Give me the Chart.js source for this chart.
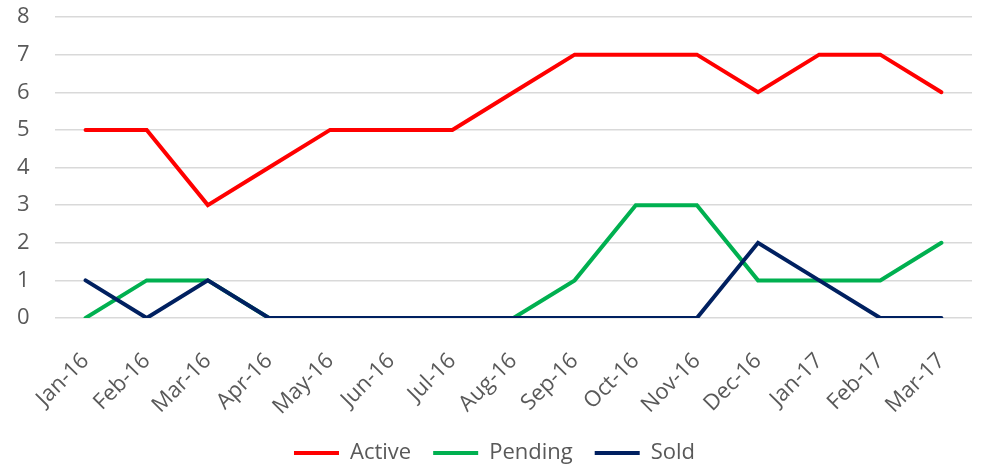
<!DOCTYPE html>
<html lang="en">
<head>
    <meta charset="UTF-8" />
    <title>Listings by Month</title>
    <script src="https://cdn.jsdelivr.net/npm/chart.js@4.4.1/dist/chart.umd.min.js"></script>
    <style>
        html, body {
            margin: 0;
            padding: 0;
            background: #ffffff;
        }
        #wrap {
            width: 983px;
            height: 471px;
        }
    </style>
</head>
<body>
    <div id="wrap"><canvas id="chart"></canvas></div>

    <script>
        // === Data ===
        const MONTHS = [
            "Jan-16", "Feb-16", "Mar-16", "Apr-16", "May-16", "Jun-16", "Jul-16", "Aug-16",
            "Sep-16", "Oct-16", "Nov-16", "Dec-16", "Jan-17", "Feb-17", "Mar-17"
        ];
        const ACTIVE  = [5, 5, 3, 4, 5, 5, 5, 6, 7, 7, 7, 6, 7, 7, 6];
        const PENDING = [0, 1, 1, 0, 0, 0, 0, 0, 1, 3, 3, 1, 1, 1, 2];
        const SOLD    = [1, 0, 1, 0, 0, 0, 0, 0, 0, 0, 0, 2, 1, 0, 0];

        const TEXT_COLOR = "#595959";
        const FONT = "'Open Sans', 'DejaVu Sans', sans-serif";
        const FONT_SIZE = 22;

        // later series are painted on top (lower "order" draws last)
        function series(label, data, color, order) {
            return {
                label,
                data,
                order,
                borderColor: color,
                backgroundColor: color,
                borderWidth: 4,
                borderCapStyle: "round",
                borderJoinStyle: "miter",
                pointRadius: 0,
                tension: 0,
                fill: false
            };
        }

        new Chart(document.getElementById("chart"), {
            type: "line",
            data: {
                labels: MONTHS,
                datasets: [
                    series("Active", ACTIVE, "#ff0000", 3),
                    series("Pending", PENDING, "#00b050", 2),
                    series("Sold", SOLD, "#002060", 1)
                ]
            },
            options: {
                responsive: true,
                maintainAspectRatio: false,
                animation: false,
                layout: {
                    padding: { left: 17, right: 11, top: 17, bottom: -3 }
                },
                scales: {
                    x: {
                        offset: true,
                        grid: { display: false },
                        border: { display: false },
                        ticks: {
                            color: TEXT_COLOR,
                            font: { family: FONT, size: FONT_SIZE },
                            minRotation: 45,
                            maxRotation: 45,
                            autoSkip: false,
                            padding: 22
                        },
                        // room for the slanted month labels plus a gap above the legend
                        afterFit(scale) {
                            scale.height = 102;
                        }
                    },
                    y: {
                        min: 0,
                        max: 8,
                        border: { display: false },
                        grid: { color: "#d9d9d9", lineWidth: 1.5, drawTicks: false },
                        ticks: {
                            stepSize: 1,
                            color: TEXT_COLOR,
                            font: { family: FONT, size: FONT_SIZE },
                            crossAlign: "far",
                            padding: 0
                        },
                        // fixed gutter between the value labels and the grid
                        afterFit(scale) {
                            scale.width = 38;
                        }
                    }
                },
                plugins: {
                    legend: {
                        position: "bottom",
                        labels: {
                            usePointStyle: true,
                            pointStyle: "line",
                            pointStyleWidth: 45,
                            color: TEXT_COLOR,
                            font: { family: FONT, size: FONT_SIZE },
                            padding: 22,
                            // keep legend in dataset order, not draw order
                            sort: (a, b) => a.datasetIndex - b.datasetIndex
                        }
                    },
                    tooltip: { enabled: false }
                }
            }
        });
    </script>
</body>
</html>
